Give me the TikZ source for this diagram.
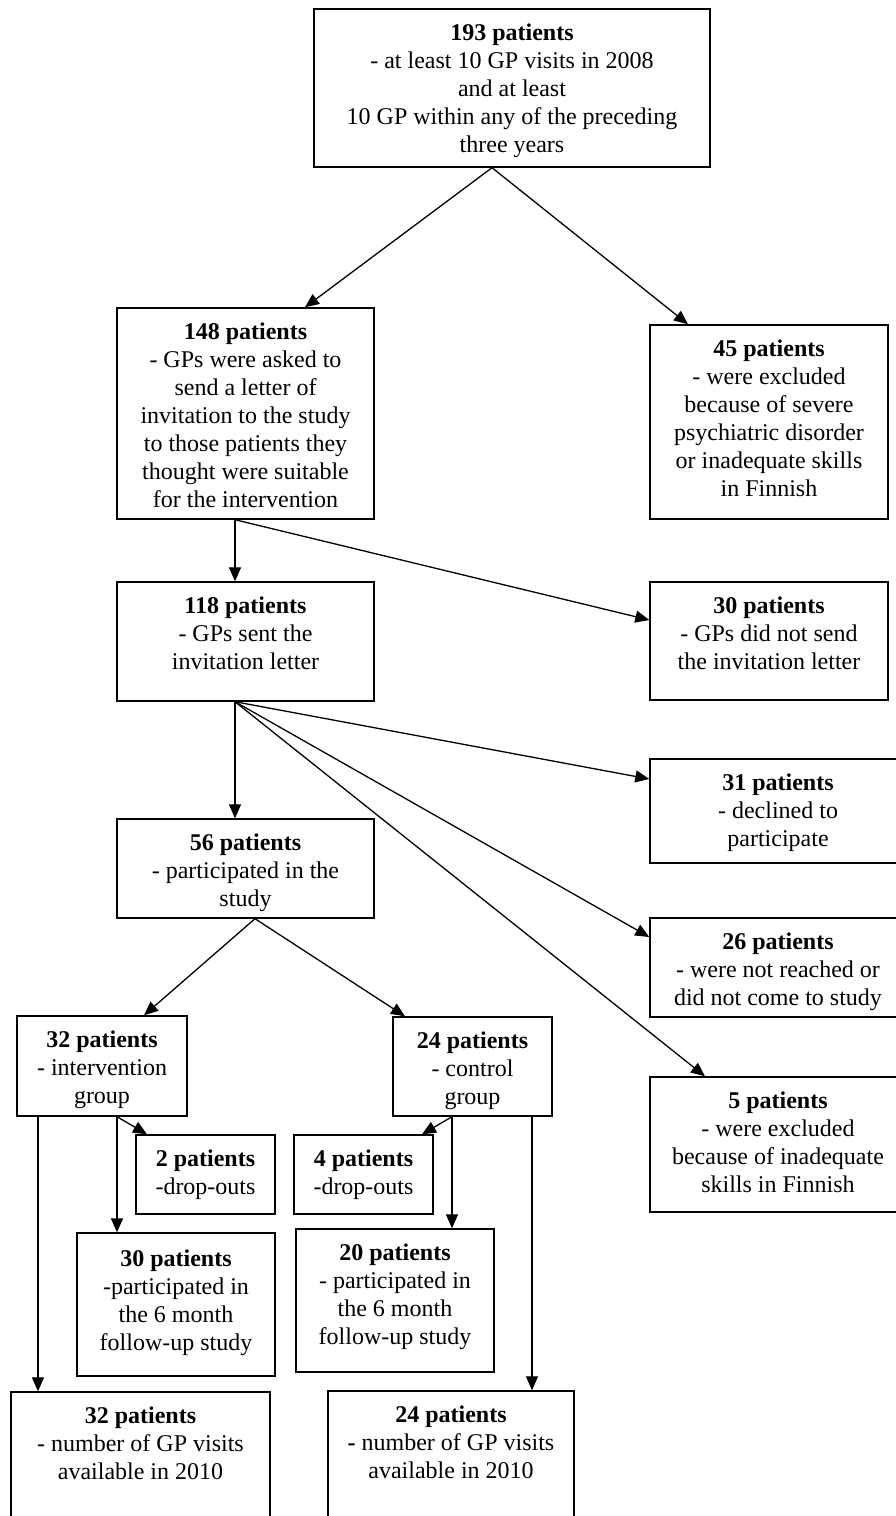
\documentclass[tikz,border=0pt]{standalone}
\usepackage{fontspec}
\setmainfont{Liberation Serif}
\usetikzlibrary{arrows.meta}

\begin{document}
\begin{tikzpicture}[
    x=1pt, y=-1pt,
    box/.style={rectangle, draw=black, line width=1.4pt, inner sep=0pt},
    txt/.style={anchor=north, inner sep=0pt, align=center,
                font=\fontsize{24}{28}\selectfont},
    arrow/.style={-{Triangle[length=14pt,width=12pt]}, line width=1.3pt}
]
    \useasboundingbox (0,0) rectangle (896,1516);
    \clip (0,0) rectangle (896,1516);

    % boxes
    \node[box, minimum width=396pt, minimum height=158pt] (b193) at (512,88) {};
    \node[box, minimum width=257pt, minimum height=211pt] (b148) at (245.5,413.5) {};
    \node[box, minimum width=238pt, minimum height=194pt] (b45) at (769,422) {};
    \node[box, minimum width=257pt, minimum height=119pt] (b118) at (245.5,641.5) {};
    \node[box, minimum width=238pt, minimum height=118pt] (b30) at (769,641) {};
    \node[box, minimum width=256pt, minimum height=104pt] (b31) at (778,811) {};
    \node[box, minimum width=257pt, minimum height=99pt] (b56) at (245.5,868.5) {};
    \node[box, minimum width=256pt, minimum height=99pt] (b26) at (778,967.5) {};
    \node[box, minimum width=256pt, minimum height=135pt] (b5) at (778,1144.5) {};
    \node[box, minimum width=170pt, minimum height=100pt] (b32) at (102,1066) {};
    \node[box, minimum width=159pt, minimum height=99pt] (b24) at (472.5,1066.5) {};
    \node[box, minimum width=139pt, minimum height=79pt] (b2) at (205.5,1174.5) {};
    \node[box, minimum width=139pt, minimum height=79pt] (b4) at (363.5,1174.5) {};
    \node[box, minimum width=198pt, minimum height=143pt] (b30f) at (176,1304.5) {};
    \node[box, minimum width=198pt, minimum height=143pt] (b20f) at (395,1300.5) {};
    \node[box, minimum width=259pt, minimum height=138pt] (b32v) at (140.5,1461) {};
    \node[box, minimum width=246pt, minimum height=139pt] (b24v) at (451,1460.5) {};

    % texts
    \node[txt] (t193) at ([yshift=-15.6pt]b193.north) {\textbf{193 patients}\\- at least 10 GP visits in 2008\\and at least\\10 GP within any of the preceding\\three years};
    \node[txt] (t148) at ([yshift=-15.6pt]b148.north) {\textbf{148 patients}\\- GPs were asked to\\send a letter of\\invitation to the study\\to those patients they\\thought were suitable\\for the intervention};
    \node[txt] (t45) at ([yshift=-15.6pt]b45.north) {\textbf{45 patients}\\- were excluded\\because of severe\\psychiatric disorder\\or inadequate skills\\in Finnish};
    \node[txt] (t118) at ([yshift=-15.6pt]b118.north) {\textbf{118 patients}\\- GPs sent the\\invitation letter};
    \node[txt] (t30) at ([yshift=-15.6pt]b30.north) {\textbf{30 patients}\\- GPs did not send\\the invitation letter};
    \node[txt] (t31) at ([yshift=-15.6pt]b31.north) {\textbf{31 patients}\\- declined to\\participate};
    \node[txt] (t56) at ([yshift=-15.6pt]b56.north) {\textbf{56 patients}\\- participated in the\\study};
    \node[txt] (t26) at ([yshift=-15.6pt]b26.north) {\textbf{26 patients}\\- were not reached or\\did not come to study};
    \node[txt] (t5) at ([yshift=-15.6pt]b5.north) {\textbf{5 patients}\\- were excluded\\because of inadequate\\skills in Finnish};
    \node[txt] (t32) at ([yshift=-15.6pt]b32.north) {\textbf{32 patients}\\- intervention\\group};
    \node[txt] (t24) at ([yshift=-15.6pt]b24.north) {\textbf{24 patients}\\- control\\group};
    \node[txt] (t2) at ([yshift=-15.6pt]b2.north) {\textbf{2 patients}\\-drop-outs};
    \node[txt] (t4) at ([yshift=-15.6pt]b4.north) {\textbf{4 patients}\\-drop-outs};
    \node[txt] (t30f) at ([yshift=-17pt]b30f.north) {\textbf{30 patients}\\-participated in\\the 6 month\\follow-up study};
    \node[txt] (t20f) at ([yshift=-15.6pt]b20f.north) {\textbf{20 patients}\\- participated in\\the 6 month\\follow-up study};
    \node[txt] (t32v) at ([yshift=-15.6pt]b32v.north) {\textbf{32 patients}\\- number of GP visits\\available in 2010};
    \node[txt] (t24v) at ([yshift=-15.6pt]b24v.north) {\textbf{24 patients}\\\textbf{-} number of GP visits\\available in 2010};

    % connectors
    \draw[arrow] ([xshift=-20pt]b193.south) -- ([xshift=59.5pt]b148.north);
    \draw[arrow] ([xshift=-20pt]b193.south) -- ([xshift=-81pt]b45.north);
    \draw[arrow] ([xshift=-10.5pt]b148.south) -- ([xshift=-10.5pt]b118.north);
    \draw[arrow] ([xshift=-10.5pt]b148.south) -- ([yshift=21pt]b30.west);
    \draw[arrow] ([xshift=-10.5pt]b118.south) -- ([xshift=-10.5pt]b56.north);
    \draw[arrow] ([xshift=-10.5pt]b118.south) -- ([yshift=32pt]b31.west);
    \draw[arrow] ([xshift=-10.5pt]b118.south) -- ([yshift=30.5pt]b26.west);
    \draw[arrow] ([xshift=-10.5pt]b118.south) -- ([xshift=-73pt]b5.north);
    \draw[arrow] ([xshift=9.5pt]b56.south) -- ([xshift=42pt]b32.north);
    \draw[arrow] ([xshift=9.5pt]b56.south) -- ([xshift=-67.5pt]b24.north);
    \draw[arrow] ([xshift=-64pt]b32.south) -- ([xshift=-102.5pt]b32v.north);
    \draw[arrow] ([xshift=15pt]b32.south) -- ([xshift=-59pt]b30f.north);
    \draw[arrow] ([xshift=15pt]b32.south) -- ([xshift=-58.5pt]b2.north);
    \draw[arrow] ([xshift=-20.5pt]b24.south) -- ([xshift=58.5pt]b4.north);
    \draw[arrow] ([xshift=-20.5pt]b24.south) -- ([xshift=57pt]b20f.north);
    \draw[arrow] ([xshift=59.5pt]b24.south) -- ([xshift=81pt]b24v.north);
\end{tikzpicture}
\end{document}
